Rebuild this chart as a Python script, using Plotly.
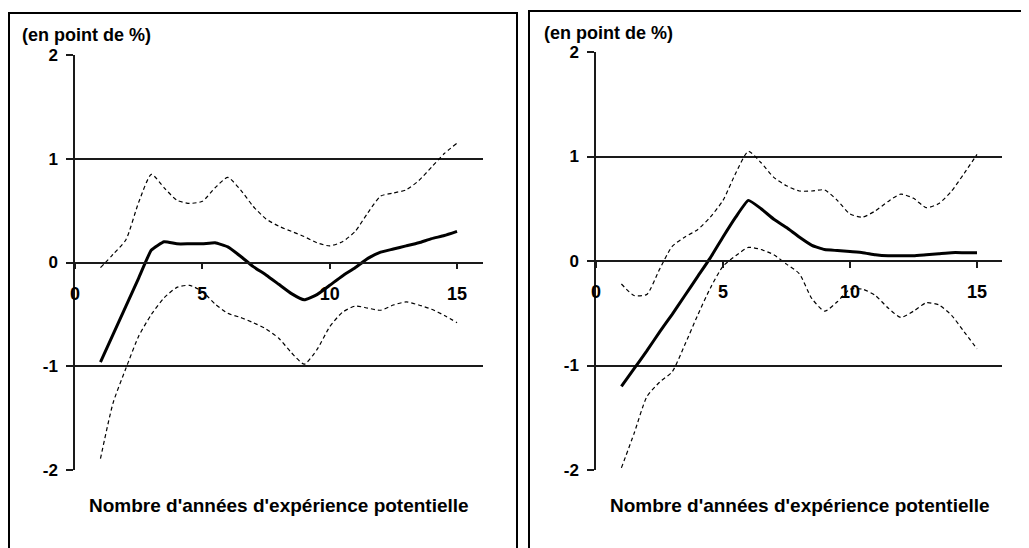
import plotly.graph_objects as go

# Data (x = potential years of experience)
years = [1, 1.5, 2, 2.5, 3, 3.5, 4, 4.5, 5, 5.5, 6, 6.5, 7, 7.5, 8,
         8.5, 9, 9.5, 10, 10.5, 11, 11.5, 12, 12.5, 13, 13.5, 14, 14.5, 15]

left_est = [-0.96, -0.69, -0.42, -0.15, 0.12, 0.20, 0.18, 0.18, 0.18, 0.19,
            0.15, 0.06, -0.04, -0.12, -0.21, -0.30, -0.36, -0.31, -0.22,
            -0.13, -0.05, 0.04, 0.10, 0.13, 0.16, 0.19, 0.23, 0.26, 0.30]
left_high = [-0.05, 0.08, 0.22, 0.58, 0.85, 0.72, 0.60, 0.57, 0.59, 0.72,
             0.82, 0.70, 0.54, 0.42, 0.35, 0.30, 0.25, 0.19, 0.16, 0.20,
             0.30, 0.48, 0.64, 0.67, 0.70, 0.79, 0.92, 1.05, 1.15]
left_low = [-1.89, -1.35, -1.02, -0.71, -0.50, -0.34, -0.24, -0.22, -0.28,
            -0.40, -0.49, -0.53, -0.58, -0.64, -0.73, -0.87, -0.98, -0.84,
            -0.62, -0.48, -0.42, -0.44, -0.46, -0.41, -0.38, -0.41, -0.45,
            -0.51, -0.58]

right_est = [-1.20, -1.03, -0.86, -0.68, -0.51, -0.33, -0.15, 0.03, 0.23,
             0.42, 0.58, 0.50, 0.40, 0.32, 0.23, 0.15, 0.11, 0.10, 0.09,
             0.08, 0.06, 0.05, 0.05, 0.05, 0.06, 0.07, 0.08, 0.08, 0.08]
right_high = [-0.22, -0.33, -0.32, -0.08, 0.14, 0.23, 0.30, 0.42, 0.58, 0.84,
              1.05, 0.94, 0.80, 0.72, 0.67, 0.67, 0.68, 0.58, 0.45, 0.42,
              0.48, 0.57, 0.64, 0.60, 0.51, 0.55, 0.67, 0.84, 1.02]
right_low = [-1.98, -1.65, -1.30, -1.16, -1.06, -0.80, -0.52, -0.26, -0.05,
             0.05, 0.13, 0.11, 0.06, -0.03, -0.12, -0.36, -0.48, -0.39,
             -0.27, -0.27, -0.33, -0.45, -0.54, -0.48, -0.40, -0.42, -0.52,
             -0.68, -0.84]

x_ticks = [0, 5, 10, 15]
y_ticks = [-2, -1, 0, 1, 2]
unit_label = '(en point de %)'
x_title = "Nombre d'années d'expérience potentielle"

W, H = 1029, 548
PAGE_OFFSET = 8  # the html body margin shifts the figure by 8px
FONT = 'Liberation Sans, Arial, sans-serif'
AXIS_COL = '#1a1a1a'


def px_x(p):
    return (p - PAGE_OFFSET) / W


def px_y(p):
    return 1 - (p - PAGE_OFFSET) / H


fig = go.Figure()

panels = [
    # (suffix, estimate, high, low, x-domain px, y-domain px, zero px)
    ('', left_est, left_high, left_low, (75, 482.5), (470, 55), 262.5),
    ('2', right_est, right_high, right_low, (596, 1002.4), (470, 52), 261),
]

for suffix, est, high, low, xd, yd, zero in panels:
    xa, ya = 'x' + suffix, 'y' + suffix
    for vals in (high, low):
        fig.add_trace(go.Scatter(
            x=years, y=vals, mode='lines', xaxis=xa, yaxis=ya,
            line=dict(color='black', width=1.2, dash='4px,3px',
                      shape='spline', smoothing=0.6),
            showlegend=False, hoverinfo='skip'))
    fig.add_trace(go.Scatter(
        x=years, y=est, mode='lines', xaxis=xa, yaxis=ya,
        line=dict(color='black', width=3, shape='spline', smoothing=0.4),
        showlegend=False))

    fig.update_layout({
        'xaxis' + suffix: dict(
            domain=[px_x(xd[0]), px_x(xd[1])], range=[0, 16],
            anchor='free', position=px_y(zero), automargin=False,
            showline=True, linecolor=AXIS_COL, linewidth=1.5,
            ticks='outside', ticklen=6, tickcolor=AXIS_COL, tickwidth=1.5,
            tickvals=x_ticks, ticktext=[str(v) for v in x_ticks],
            ticklabelstandoff=9, showgrid=False, zeroline=False,
            tickfont=dict(family=FONT, size=18, color='black',
                          weight='bold')),
        'yaxis' + suffix: dict(
            domain=[px_y(yd[0]), px_y(yd[1])], range=[-2, 2],
            anchor=xa, automargin=False,
            showline=True, linecolor=AXIS_COL, linewidth=1.5,
            ticks='outside', ticklen=7, tickcolor=AXIS_COL, tickwidth=1.5,
            tickvals=y_ticks, ticktext=[str(v) for v in y_ticks],
            ticklabelstandoff=5,
            showgrid=False, zeroline=True, zerolinecolor=AXIS_COL,
            zerolinewidth=1.5,
            minor=dict(tickvals=[-1, 1], showgrid=True, gridcolor=AXIS_COL,
                       gridwidth=1.5, ticks=''),
            tickfont=dict(family=FONT, size=17, color='black',
                          weight='bold')),
    })

# Panel frames (cropped at the bottom / right like the original)
fig.add_shape(type='rect', xref='paper', yref='paper',
              x0=px_x(9), x1=px_x(517), y0=-0.1, y1=px_y(13),
              line=dict(color='black', width=2))
fig.add_shape(type='rect', xref='paper', yref='paper',
              x0=px_x(529), x1=1.1, y0=-0.1, y1=px_y(11),
              line=dict(color='black', width=2))

# Unit labels and x titles
for xpos, ypos in [(20, 35), (542, 33)]:
    fig.add_annotation(text=unit_label, xref='paper', yref='paper',
                       x=px_x(xpos), y=px_y(ypos), xanchor='left',
                       yanchor='middle', showarrow=False,
                       font=dict(family=FONT, size=18, color='black',
                                 weight='bold'))
for xpos in [279, 800]:
    fig.add_annotation(text=x_title, xref='paper', yref='paper',
                       x=px_x(xpos), y=px_y(505), xanchor='center',
                       yanchor='middle', showarrow=False,
                       font=dict(family=FONT, size=19, color='black',
                                 weight='bold'))

fig.update_layout(
    template='none',
    width=W, height=H,
    margin=dict(l=0, r=0, t=0, b=0),
    paper_bgcolor='white', plot_bgcolor='white',
    font=dict(family=FONT),
)

fig.write_html('out.html')
